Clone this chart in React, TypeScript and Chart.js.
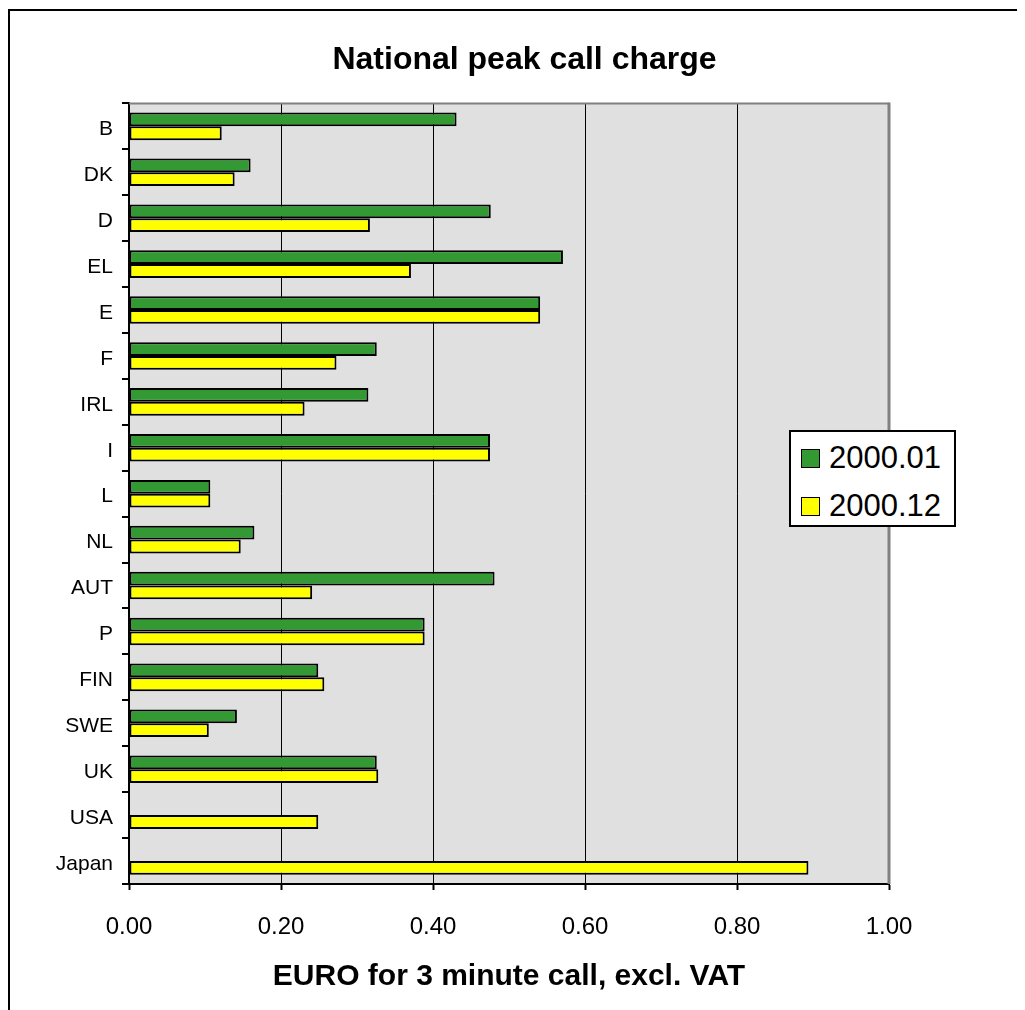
import React, { useEffect, useRef } from 'react';
import { Chart, registerables } from 'chart.js';

Chart.register(...registerables);

const categories = ['B', 'DK', 'D', 'EL', 'E', 'F', 'IRL', 'I', 'L', 'NL', 'AUT', 'P', 'FIN', 'SWE', 'UK', 'USA', 'Japan'];
const series200001 = [0.431, 0.160, 0.476, 0.571, 0.541, 0.326, 0.315, 0.475, 0.107, 0.165, 0.481, 0.389, 0.249, 0.142, 0.326, null, null];
const series200012 = [0.122, 0.139, 0.317, 0.371, 0.541, 0.273, 0.231, 0.475, 0.107, 0.147, 0.241, 0.389, 0.257, 0.105, 0.328, 0.249, 0.894];
const seriesNames = ['2000.01', '2000.12'];
const seriesColors = ['#339933', '#FFFF00'];
const xMin = 0;
const xMax = 1;
const xStep = 0.2;
const titleText = 'National peak call charge';
const xAxisTitle = 'EURO for 3 minute call, excl. VAT';

const FONT = "'Liberation Sans', Arial, Helvetica, sans-serif";

export default function App() {
  const ref = useRef<HTMLCanvasElement>(null);

  useEffect(() => {
    const canvas = ref.current;
    if (!canvas) return;

    const framePlugin = {
      id: 'framePlugin',
      beforeDraw(chart: any) {
        const { ctx, chartArea: a } = chart;
        ctx.save();
        ctx.fillStyle = '#ffffff';
        ctx.fillRect(0, 0, chart.width, chart.height);
        ctx.fillStyle = '#E0E0E0';
        ctx.fillRect(a.left, a.top, a.right - a.left, a.bottom - a.top);
        ctx.fillStyle = '#000000';
        ctx.fillRect(0, 1, 2, chart.height);
        ctx.fillRect(0, 1, chart.width, 2);
        ctx.restore();
      },
      beforeDatasetsDraw(chart: any) {
        const { ctx, chartArea: a } = chart;
        ctx.save();
        ctx.strokeStyle = '#808080';
        ctx.lineWidth = 2;
        ctx.beginPath();
        ctx.moveTo(a.left, a.top);
        ctx.lineTo(a.right, a.top);
        ctx.stroke();
        ctx.lineWidth = 3;
        ctx.beginPath();
        ctx.moveTo(a.right, a.top - 1);
        ctx.lineTo(a.right, a.bottom);
        ctx.stroke();
        ctx.restore();
      },
    };

    const datasets = [series200001, series200012].map((d, i) => ({
      label: seriesNames[i],
      data: d,
      backgroundColor: seriesColors[i],
      borderColor: '#000000',
      borderWidth: 2,
      borderSkipped: false,
      categoryPercentage: 0.6,
      barPercentage: 1.0,
      xAxisID: 'x',
      yAxisID: 'y',
    }));

    const chart = new Chart(canvas, {
      type: 'bar',
      data: { labels: categories, datasets: datasets as any },
      plugins: [framePlugin],
      options: {
        indexAxis: 'y',
        animation: false,
        responsive: false,
        maintainAspectRatio: false,
        layout: { padding: { left: 16, right: 0, top: 0, bottom: 0 } },
        plugins: {
          legend: { display: false },
          tooltip: { enabled: false },
          title: {
            display: true,
            text: titleText,
            color: '#000000',
            font: { family: FONT, size: 32, weight: 'bold', lineHeight: 1.2 },
            padding: { top: 33, bottom: 24 },
          },
        },
        scales: {
          y: {
            type: 'category',
            position: 'left',
            offset: true,
            grid: {
              offset: true,
              drawOnChartArea: false,
              drawTicks: true,
              tickLength: 7,
              color: '#000000',
              lineWidth: 2,
            },
            border: { color: '#000000', width: 2 },
            ticks: {
              color: '#000000',
              font: { family: FONT, size: 21 },
              padding: 9,
              labelOffset: 3,
              autoSkip: false,
            },
            afterFit(s: any) {
              s.width = 105;
            },
          },
          x: {
            type: 'linear',
            position: 'bottom',
            min: xMin,
            max: xMax,
            grid: {
              color: '#000000',
              lineWidth: 1,
              drawTicks: true,
              tickLength: 6,
              tickColor: '#000000',
              tickWidth: 2,
            },
            border: { color: '#000000', width: 2 },
            ticks: {
              stepSize: xStep,
              color: '#000000',
              font: { family: FONT, size: 24 },
              padding: 23,
              callback: (v: any) => Number(v).toFixed(2),
            },
            title: {
              display: true,
              text: xAxisTitle,
              color: '#000000',
              font: { family: FONT, size: 30, weight: 'bold', lineHeight: 1.2 },
              padding: { top: 0, bottom: 15 },
            },
            afterFit(s: any) {
              s.height = 126;
            },
          },
          padRight: {
            axis: 'y',
            type: 'linear',
            position: 'right',
            display: true,
            grid: { display: false, drawTicks: false },
            border: { display: false },
            ticks: { display: false },
            afterFit(s: any) {
              s.width = 136;
            },
          },
        } as any,
      },
    });

    return () => chart.destroy();
  }, []);

  return (
    <div style={{ position: 'relative', width: 1017, height: 1002 }}>
      <canvas ref={ref} width={1017} height={1002} style={{ display: 'block', width: 1017, height: 1002 }} />
      <div
        style={{
          position: 'absolute',
          left: 781,
          top: 422,
          width: 167,
          height: 97,
          boxSizing: 'border-box',
          border: '2px solid #000',
          background: '#ffffff',
          fontFamily: FONT,
        }}
      >
        {seriesNames.map((name, i) => (
          <div
            key={name}
            style={{
              position: 'absolute',
              left: 0,
              top: 6 + i * 48,
              height: 40,
              display: 'flex',
              alignItems: 'center',
            }}
          >
            <div
              style={{
                marginLeft: 10,
                width: 19,
                height: 19,
                boxSizing: 'border-box',
                border: '1.5px solid #000',
                background: seriesColors[i],
              }}
            />
            <span style={{ marginLeft: 9, fontSize: 31, lineHeight: '40px', color: '#000', whiteSpace: 'nowrap' }}>{name}</span>
          </div>
        ))}
      </div>
    </div>
  );
}
